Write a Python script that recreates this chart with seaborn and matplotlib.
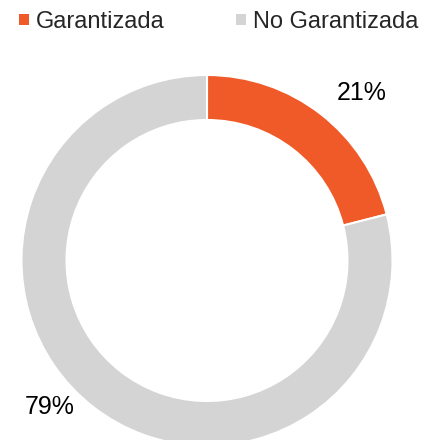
import matplotlib
matplotlib.use("Agg")
import matplotlib.pyplot as plt
import seaborn as sns

categories = ["Garantizada", "No Garantizada"]
values = [21, 79]
pct_labels = ["21%", "79%"]
colors = ["#F05A28", "#D4D4D4"]

sns.set_theme(style="white")
plt.rcParams["font.family"] = ["Liberation Sans", "DejaVu Sans"]

fig = plt.figure(figsize=(4.25, 4.4), dpi=100)
# donut centre ~ (207, 260) px, outer radius ~185 px
R = 185.5
ax = fig.add_axes([(207 - R) / 425, (440 - 260.5 - R) / 440, 2 * R / 425, 2 * R / 440])

wedges, _ = ax.pie(values, colors=colors, startangle=90, counterclock=False,
                   radius=1.0,
                   wedgeprops=dict(width=45 / R, edgecolor="white", linewidth=1.5))
ax.set_xlim(-1, 1)
ax.set_ylim(-1, 1)
ax.set_aspect("equal")
ax.axis("off")

# percentage labels, placed like the original (Excel style)
label_pos = [(0.836, 0.903), (-0.846, -0.790)]
for txt, (x, y) in zip(pct_labels, label_pos):
    ax.text(x, y, txt, ha="center", va="center", fontsize=18, color="black")

leg = fig.legend(wedges, categories, loc="center left", bbox_to_anchor=(0.045, 0.95),
                 ncol=2, frameon=False, fontsize=17, handlelength=0.42, handleheight=0.32,
                 handletextpad=0.3, columnspacing=3.0, borderpad=0, borderaxespad=0)
for h in leg.legend_handles:
    h.set_edgecolor("none")

fig.savefig("out.png", dpi=100)
